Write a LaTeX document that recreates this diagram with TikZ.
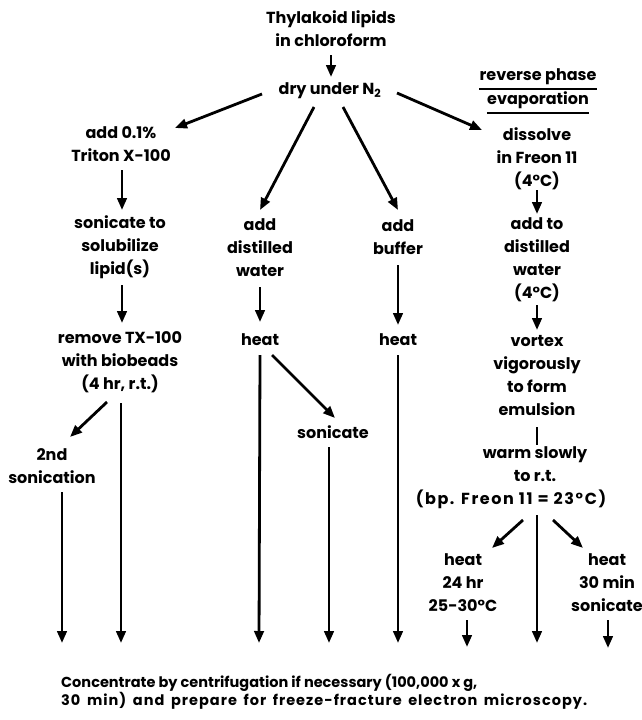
\documentclass[tikz,border=0pt]{standalone}
\usepackage{fontspec}
\newfontfamily\pop{Poppins}
\usetikzlibrary{arrows.meta,calc}
\begin{document}
\begin{tikzpicture}[x=1pt,y=-1pt,
  txt/.style={font=\pop\bfseries\fontsize{16}{23}\selectfont, align=center, inner sep=0pt},
  arr/.style={line width=2.8pt, -{Triangle[length=12pt,width=9.5pt]}},
  ln/.style={line width=2.8pt},
  ul/.style={line width=1.8pt}]
\useasboundingbox (0,0) rectangle (642,720);

% nodes
\node[txt] (top) at (331,29) {Thylakoid lipids\\in chloroform};
\node[txt] (dry) at (330,91) {dry under N\textsubscript{2}};
\node[txt] (add01) at (121,144) {add 0.1\%\\Triton X-100};
\node[txt] (sonic) at (120,247) {sonicate to\\solubilize\\lipid(s)};
\node[txt] (remove) at (120,362) {remove TX-100\\with biobeads\\(4 hr, r.t.)};
\node[txt] (second) at (52,466) {2nd\\sonication};
\node[txt] (adw) at (260,248) {add\\distilled\\water};
\node[txt] (heata) at (260,340) {heat};
\node[txt] (sonb) at (333,432) {sonicate};
\node[txt] (buffer) at (398,237) {add\\buffer};
\node[txt] (heatb) at (398,340) {heat};
\node[txt] (rpea) at (538,77) {reverse phase};
\node[txt] (rpeb) at (538,100) {evaporation};
\node[txt] (dissolve) at (537,159) {dissolve\\in Freon 11\\(4°C)};
\node[txt] (addto) at (537,260) {add to\\distilled\\water\\(4°C)};
\node[txt] (vortex) at (537,376) {vortex\\vigorously\\to form\\emulsion};
\node[txt] (warm) at (535,478) {warm slowly\\to r.t.\\\kern-48pt{\addfontfeature{LetterSpace=10}(bp. Freon 11 = 23°C)}};
\node[txt] (heatl) at (463,583) {heat\\24 hr\\25-30°C};
\node[txt] (heatr) at (607,583) {heat\\30 min\\sonicate};
\node[txt, align=left, anchor=west, font=\pop\bfseries\fontsize{14.5}{17}\selectfont] (bottom) at (61,692)
  {Concentrate by centrifugation if necessary (100,000 x g,\\\makebox[526pt][s]{\addfontfeature{LetterSpace=7}30 min) and prepare for freeze-fracture electron microscopy.}};

% free ends
\coordinate (e1) at (62,643);
\coordinate (e2) at (121,643);
\coordinate (e3) at (259,643);
\coordinate (e4) at (329,643);
\coordinate (e5) at (398,643);
\coordinate (e6) at (467,647);
\coordinate (e7) at (537,643);
\coordinate (e8) at (608,648);

% underlines
\draw[ul] ($(rpea.south west)+(0,4)$) -- ($(rpea.south east)+(0,4)$);
\draw[ul] ($(rpeb.south west)+(0,4)$) -- ($(rpeb.south east)+(0,4)$);

% connectors
\draw[arr] ($(top)+(0,26)$) -- ($(dry)+(1,-14)$);
\draw[arr] ($(dry)+(-68,3)$) -- ($(add01)+(54,-16)$);
\draw[arr] ($(dry)+(-16,16)$) -- ($(adw)+(0,-38)$);
\draw[arr] ($(dry)+(13,16)$) -- ($(buffer)+(0,-27)$);
\draw[arr] ($(dry)+(67,2)$) -- ($(dissolve)+(-55,-29)$);
\draw[arr] ($(add01)+(1,26)$) -- ($(sonic)+(2,-37)$);
\draw[arr] ($(sonic)+(2,38)$) -- ($(remove)+(2,-39)$);
\draw[arr] ($(remove)+(-13,40)$) -- ($(second)+(18,-29)$);
\draw[arr] ($(remove)+(1,41)$) -- (e2);
\draw[arr] ($(second)+(10,26)$) -- (e1);
\draw[arr] ($(adw)+(0,39)$) -- ($(heata)+(0,-18)$);
\draw[arr] ($(heata)+(0,15)$) -- (e3);
\draw[arr] ($(heata)+(12,15)$) -- ($(sonb)+(2,-14)$);
\draw[arr] ($(sonb)+(-4,15)$) -- (e4);
\draw[arr] ($(buffer)+(0,28)$) -- ($(heatb)+(0,-15)$);
\draw[arr] ($(heatb)+(0,15)$) -- (e5);
\draw[arr] ($(dissolve)+(0,31)$) -- ($(addto)+(0,-46)$);
\draw[arr] ($(addto)+(0,45)$) -- ($(vortex)+(0,-46)$);
\draw[ln] ($(vortex)+(0,51)$) -- ($(warm)+(2,-33)$);
\draw[arr] ($(warm)+(-12,42)$) -- ($(heatl)+(29,-35)$);
\draw[arr] ($(warm)+(2,37)$) -- (e7);
\draw[arr] ($(warm)+(18,42)$) -- ($(heatr)+(-24,-35)$);
\draw[arr] ($(heatl)+(4,37)$) -- (e6);
\draw[arr] ($(heatr)+(1,37)$) -- (e8);
\end{tikzpicture}
\end{document}
